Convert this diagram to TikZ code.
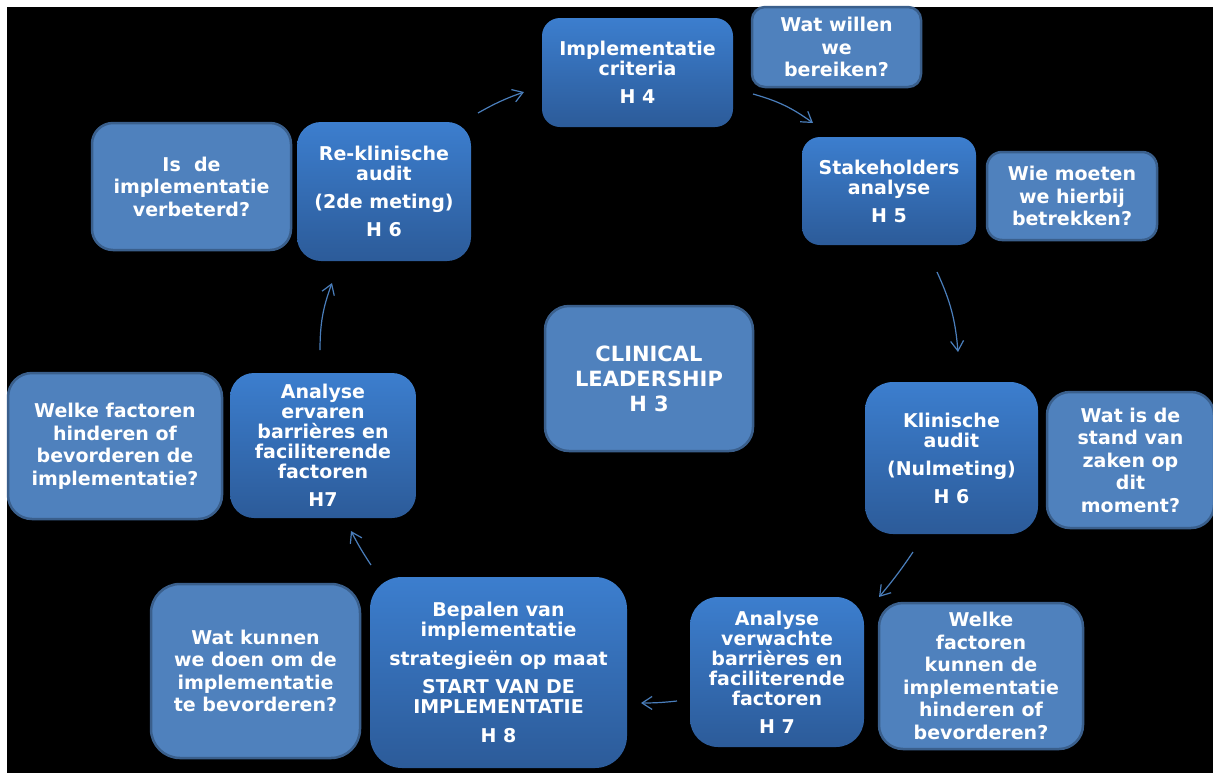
\documentclass[tikz,border=0pt]{standalone}
\usepackage{fontspec}
\setmainfont{DejaVu Sans}
\usetikzlibrary{arrows.meta}
\definecolor{mtop}{RGB}{60,126,206}
\definecolor{mbot}{RGB}{44,91,153}
\definecolor{qfill}{RGB}{79,129,189}
\definecolor{qdraw}{RGB}{58,95,140}
\definecolor{arr}{RGB}{74,126,187}
\begin{document}
\begin{tikzpicture}[x=1pt,y=-1pt,
  mainbox/.style={top color=mtop,bottom color=mbot,draw=none,text=white,
    font=\fontsize{19pt}{20pt}\selectfont\bfseries,align=center,inner sep=0pt},
  qbox/.style={fill=qfill,draw=qdraw,line width=2.5pt,text=white,
    font=\fontsize{19pt}{22.5pt}\selectfont\bfseries,align=center,inner sep=0pt},
  flow/.style={draw=arr,line width=1.2pt,-{Straight Barb[length=10pt,width=13pt]}}]
\useasboundingbox (0,0) rectangle (1213,772);
\fill[white] (0,0) rectangle (1213,772);
\fill[black] (7,7) rectangle (1220,780);

% main (process) boxes
\node[mainbox,minimum width=191pt,minimum height=109pt,rounded corners=18pt] (A) at (637.5,72.5)
  {Implementatie\\criteria\\[8pt]H 4};
\node[mainbox,minimum width=174pt,minimum height=108pt,rounded corners=18pt] (B) at (889,191)
  {Stakeholders\\analyse\\[8pt]H 5};
\node[mainbox,minimum width=173pt,minimum height=152pt,rounded corners=28pt] (C) at (951.5,458)
  {Klinische\\audit\\[8pt](Nulmeting)\\[8pt]H 6};
\node[mainbox,minimum width=174pt,minimum height=150pt,rounded corners=28pt] (D) at (777,672)
  {Analyse\\verwachte\\barrières en\\faciliterende\\factoren\\[8pt]H 7};
\node[mainbox,minimum width=257pt,minimum height=191pt,rounded corners=32pt] (E) at (498.5,672.5)
  {Bepalen van\\implementatie\\[9pt]strategieën op maat\\[8pt]START VAN DE\\IMPLEMENTATIE\\[9pt]H 8};
\node[mainbox,minimum width=186pt,minimum height=145pt,rounded corners=24pt] (F) at (323,445.5)
  {Analyse\\ervaren\\barrières en\\faciliterende\\factoren\\[8pt]H7};
\node[mainbox,minimum width=174pt,minimum height=139pt,rounded corners=24pt] (G) at (384,191.5)
  {Re-klinische\\audit\\[8pt](2de meting)\\[8pt]H 6};

% question boxes
\node[qbox,minimum width=169pt,minimum height=80pt,rounded corners=13pt] (Q1) at (836.5,47)
  {Wat willen\\we\\bereiken?};
\node[qbox,minimum width=170pt,minimum height=88pt,rounded corners=15pt] (Q2) at (1072,196)
  {Wie moeten\\we hierbij\\betrekken?};
\node[qbox,minimum width=167pt,minimum height=136pt,rounded corners=23pt] (Q3) at (1130.5,460)
  {Wat is de\\stand van\\zaken op\\dit\\moment?};
\node[qbox,minimum width=204pt,minimum height=146pt,rounded corners=24pt] (Q4) at (981,676)
  {Welke\\factoren\\kunnen de\\implementatie\\hinderen of\\bevorderen?};
\node[qbox,minimum width=209pt,minimum height=174pt,rounded corners=29pt] (Q5) at (255.5,671)
  {Wat kunnen\\we doen om de\\implementatie\\te bevorderen?};
\node[qbox,minimum width=214pt,minimum height=146pt,rounded corners=24pt] (Q6) at (115,446)
  {Welke factoren\\hinderen of\\bevorderen de\\implementatie?};
\node[qbox,minimum width=199pt,minimum height=127pt,rounded corners=21pt] (Q7) at (191.5,186.5)
  {Is~~de\\implementatie\\verbeterd?};
\node[qbox,minimum width=208pt,minimum height=145pt,rounded corners=24pt,
  font=\fontsize{21pt}{25pt}\selectfont\bfseries] (L) at (649,378.5)
  {CLINICAL\\LEADERSHIP\\H 3};

% arrow end points
\coordinate (ga1) at (478,113); \coordinate (ga2) at (524,92);
\coordinate (ab1) at (753,94);  \coordinate (ab2) at (813,123);
\coordinate (bc1) at (937,272); \coordinate (bc2) at (958,352);
\coordinate (cd1) at (913,552); \coordinate (cd2) at (879,597);
\coordinate (de1) at (677,701); \coordinate (de2) at (641,703);
\coordinate (ef1) at (371,565); \coordinate (ef2) at (351,531);
\coordinate (fg1) at (320,350); \coordinate (fg2) at (332,283);

\draw[flow] (ga1) to[bend left=5] (ga2);
\draw[flow] (ab1) to[bend left=10] (ab2);
\draw[flow] (bc1) to[bend left=10] (bc2);
\draw[flow] (cd1) to[bend left=3] (cd2);
\draw[flow] (de1) to[bend left=3] (de2);
\draw[flow] (ef1) to[bend left=3] (ef2);
\draw[flow] (fg1) to[bend left=10] (fg2);
\end{tikzpicture}
\end{document}
